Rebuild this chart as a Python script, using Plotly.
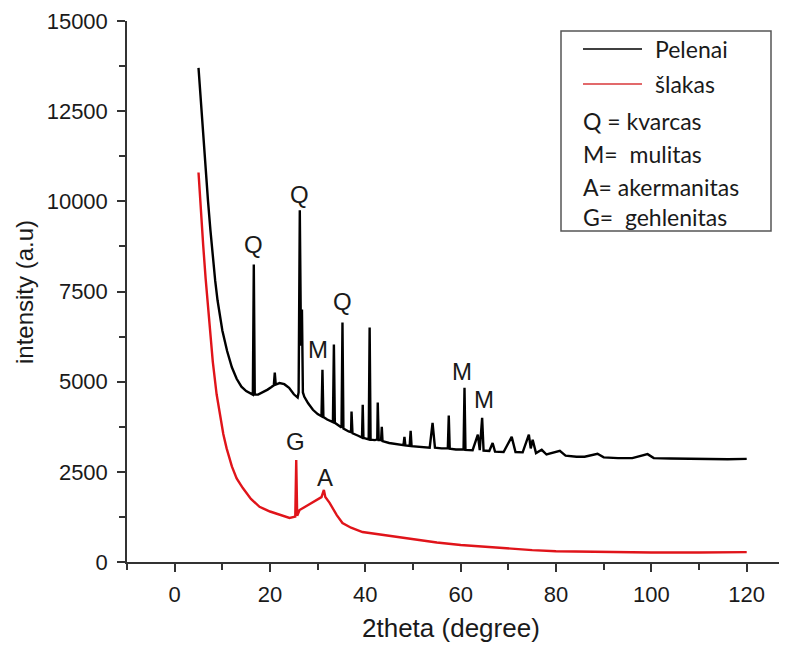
import plotly.graph_objects as go

# ---- data ----
pelenai_x = [5.0, 5.5, 6.0, 6.5, 7.0, 7.5, 8.0, 8.5, 9.0, 9.5, 10.0, 11.0, 12.0, 13.0, 14.0, 15.0, 16.0,
             16.4, 16.6, 16.8, 17.5, 18.5, 19.5, 20.3, 20.8, 21.0, 21.2, 22.0, 23.0, 24.0, 25.0, 25.8,
             26.0, 26.25, 26.5, 26.7, 26.9, 27.2, 28.0, 29.0, 30.0, 30.8, 31.0, 31.2, 32.0, 33.2, 33.4,
             33.6, 34.5, 35.0, 35.2, 35.4, 36.5, 37.0, 37.1, 37.3, 38.5, 39.3, 39.45, 39.6, 40.7, 40.9,
             41.1, 42.0, 42.5, 42.6, 42.8, 43.3, 43.45, 43.6, 45.0, 47.0, 48.0, 48.2, 48.4, 49.3, 49.5,
             49.7, 51.0, 53.5, 54.1, 54.6, 56.0, 57.3, 57.5, 57.7, 59.0, 60.6, 60.8, 61.0, 62.5, 63.6,
             64.0, 64.5, 64.8, 66.0, 66.7, 67.2, 69.0, 70.7, 71.5, 73.0, 74.3, 74.7, 75.1, 75.8, 77.0,
             78.0, 80.8, 82.0, 84.3, 86.0, 88.7, 90.0, 93.0, 96.0, 99.2, 100.5, 104.0, 108.0, 112.0,
             116.0, 120.0]
pelenai_y = [13700, 12700, 11750, 10850, 10000, 9200, 8450, 7800, 7250, 6800, 6420, 5850, 5400, 5080, 4860, 4740, 4660,
             4640, 8250, 4640, 4640, 4700, 4780, 4850, 4900, 5250, 4920, 4960, 4930, 4830, 4650, 4560,
             4700, 9750, 6000, 7000, 4700, 4580, 4400, 4220, 4100, 4040, 5330, 4020, 3950, 3880, 6030,
             3860, 3780, 3730, 6640, 3700, 3620, 3600, 4170, 3570, 3500, 3450, 4360, 3440, 3400, 6500,
             3390, 3380, 3400, 4420, 3380, 3380, 3750, 3350, 3300, 3250, 3240, 3470, 3230, 3220, 3640,
             3210, 3190, 3170, 3860, 3170, 3150, 3150, 4060, 3140, 3120, 3120, 4830, 3110, 3100, 3530,
             3100, 4000, 3090, 3080, 3300, 3060, 3050, 3470, 3050, 3040, 3530, 3150, 3390, 3020, 3110,
             2980, 3080, 2950, 2920, 2920, 3000, 2900, 2880, 2880, 2990, 2880, 2870, 2860, 2860,
             2850, 2860]

slakas_x = [5.0, 5.5, 6.0, 6.5, 7.0, 7.5, 8.0, 8.8, 9.5, 10.2, 10.9, 12.0, 13.0, 14.3, 16.0, 17.8, 20.0,
            22.0, 24.1, 25.3, 25.5, 25.7, 26.2, 28.0, 29.8, 30.8, 31.3, 31.6, 32.5, 34.0, 35.2, 37.0,
            39.4, 42.0, 44.0, 47.2, 50.0, 55.0, 60.0, 65.0, 70.0, 75.0, 80.0, 90.0, 100.0, 110.0, 120.0]
slakas_y = [10800, 9700, 8750, 7850, 7000, 6250, 5550, 4650, 4050, 3550, 3150, 2650, 2320, 2050, 1750, 1530, 1400,
            1310, 1220, 1260, 2830, 1280, 1440, 1580, 1720, 1800, 2000, 1800, 1640, 1300, 1080, 950,
            830, 780, 740, 690, 620, 540, 470, 420, 370, 330, 300, 275, 265, 265, 275]

peak_labels = ["Q", "Q", "Q", "M", "M", "M", "G", "A"]
peak_label_x = [16.5, 26.2, 35.2, 30.0, 60.2, 64.8, 25.4, 31.5]
peak_label_y = [8800, 10190, 7220, 5890, 5280, 4500, 3330, 2330]

legend_series = ["Pelenai", "šlakas"]
legend_notes = ["Q = kvarcas", "M=\u00a0 mulitas", "A=\u00a0akermanitas", "G=\u00a0 gehlenitas"]

x_ticks = [0, 20, 40, 60, 80, 100, 120]
y_ticks = [0, 2500, 5000, 7500, 10000, 12500, 15000]

BLACK = "#000000"
RED = "#e0141a"
AXIS = "#333333"
TXT = "#1a1a1a"

fig = go.Figure()
fig.add_trace(go.Scatter(x=pelenai_x, y=pelenai_y, mode="lines", name=legend_series[0],
                         line=dict(color=BLACK, width=2.4)))
fig.add_trace(go.Scatter(x=slakas_x, y=slakas_y, mode="lines", name=legend_series[1],
                         line=dict(color=RED, width=2.4)))

for t, x, y in zip(peak_labels, peak_label_x, peak_label_y):
    fig.add_annotation(x=x, y=y, text=t, showarrow=False,
                       font=dict(family="Liberation Sans, Arial", size=24, color=TXT))

# page has an 8px body margin: figure is 779x640, placed at (8, 8)
OFF = 8
W, H = 787 - OFF, 648 - OFF
# plot area geometry in reference-picture pixels
L, R, T, B = 127, 787, 21, 562
def px(xp):
    return (xp - L) / (R - L)
def py(yp):
    return (B - yp) / (B - T)

# legend box
fig.add_shape(type="rect", xref="paper", yref="paper", x0=px(561), x1=px(771), y0=py(231), y1=py(31),
              line=dict(color="#555555", width=1.5), fillcolor="white", layer="above")
leg_font = dict(family="Lato, Open Sans, sans-serif", size=23, color=TXT)
series_rows = [49, 84]
for name, col, yy in zip(legend_series, [BLACK, "#d9373a"], series_rows):
    fig.add_shape(type="line", xref="paper", yref="paper", x0=px(583), x1=px(642), y0=py(yy), y1=py(yy),
                  line=dict(color=col, width=1.5))
    fig.add_annotation(xref="paper", yref="paper", x=px(653), y=py(yy), text=name, showarrow=False,
                       xanchor="left", yanchor="middle", font=leg_font)
note_rows = [121, 154, 187, 217]
for note, yy in zip(legend_notes, note_rows):
    fig.add_annotation(xref="paper", yref="paper", x=px(581), y=py(yy), text=note, showarrow=False,
                       xanchor="left", yanchor="middle", font=leg_font)

# y-axis title
fig.add_annotation(xref="paper", yref="paper", x=px(24), y=py(292), text="intensity (a.u)", textangle=-90,
                   showarrow=False, xanchor="center", yanchor="middle",
                   font=dict(family="Liberation Sans, Arial", size=24, color=TXT))
# x-axis title
fig.add_annotation(xref="paper", yref="paper", x=px(451), y=py(628), text="2theta (degree)",
                   showarrow=False, xanchor="center", yanchor="middle",
                   font=dict(family="Liberation Sans, Arial", size=26, color=TXT))

fig.update_layout(
    width=W, height=H,
    margin=dict(l=L - OFF, r=787 - R, t=T - OFF, b=648 - B, autoexpand=False),
    paper_bgcolor="white", plot_bgcolor="white",
    showlegend=False,
    font=dict(family="Liberation Sans, Arial", color=TXT),
)
fig.update_xaxes(
    range=[-10, (R - L) / 4.767 - 10], tickvals=x_ticks, tickformat="d", ticks="outside", ticklen=8, tickwidth=1.5,
    tickcolor=AXIS, showline=True, linecolor=AXIS, linewidth=1.5, showgrid=False, zeroline=False,
    minor=dict(dtick=10, tick0=0, ticks="outside", ticklen=6, tickwidth=1.5, tickcolor=AXIS),
    tickfont=dict(size=22, color=TXT), ticklabelstandoff=4, automargin=False,
)
fig.update_yaxes(
    range=[0, 15000], tickvals=y_ticks, tickformat="d", ticks="outside", ticklen=8, tickwidth=1.5,
    tickcolor=AXIS, showline=True, linecolor=AXIS, linewidth=1.5, showgrid=False, zeroline=False,
    minor=dict(dtick=1250, tick0=0, ticks="outside", ticklen=6, tickwidth=1.5, tickcolor=AXIS),
    tickfont=dict(size=22, color=TXT), ticklabelstandoff=5, automargin=False,
)

fig.write_html("out.html")
